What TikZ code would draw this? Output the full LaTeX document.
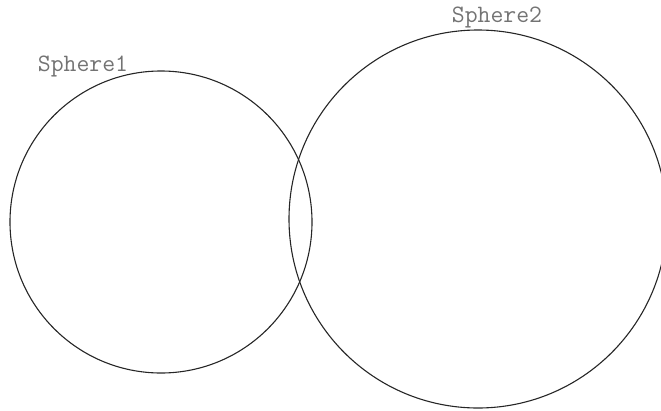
\documentclass[tikz,border=0pt]{standalone}
\begin{document}
\begin{tikzpicture}[x=1pt,y=-1pt,
  sph/.style={draw=black!85,line width=1.1pt},
  lab/.style={text=black!55,font=\ttfamily\fontsize{25}{25}\selectfont,inner sep=0pt}]
\useasboundingbox (0,0) rectangle (661,410);
\node[sph,circle,minimum size=302pt,inner sep=0pt] (s1) at (161,222) {};
\node[sph,circle,minimum size=378pt,inner sep=0pt] (s2) at (478,219) {};
\node[lab] (l1) at (83,66) {Sphere1};
\node[lab] (l2) at (497,17) {Sphere2};
\end{tikzpicture}
\end{document}
